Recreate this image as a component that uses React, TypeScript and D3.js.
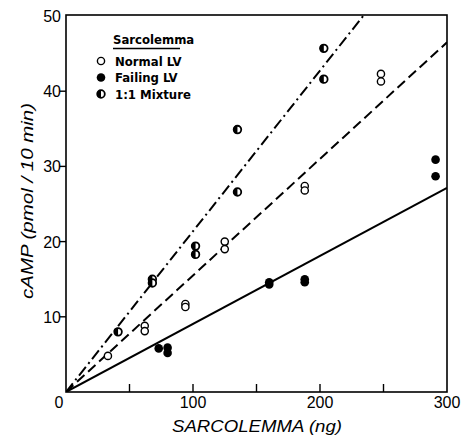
import React from "react";
import * as d3 from "d3";

const normalLV: [number, number][] = [
  [33, 4.8], [62, 8.8], [62, 8.1], [94, 11.7], [94, 11.3], [125, 20.0], [125, 19.0],
  [188, 27.4], [188, 26.8], [248, 42.3], [248, 41.3],
];
const failingLV: [number, number][] = [
  [73, 5.8], [80, 5.9], [80, 5.2], [160, 14.3], [160, 14.6], [188, 15.0], [188, 14.6],
  [291, 30.9], [291, 28.7],
];
const mixture: [number, number][] = [
  [41, 8.0], [68, 15.0], [68, 14.5], [102, 19.4], [102, 18.3], [135, 34.9], [135, 26.6],
  [203, 45.7], [203, 41.6],
];
// regression slopes (cAMP per ng) through origin
const lineSlopes = [
  { name: "failing", slope: 0.0905, dash: "" },
  { name: "normal", slope: 0.155, dash: "10,5" },
  { name: "mixture", slope: 0.2137, dash: "11,4,2,4" },
];
const xLabels = [0, 100, 200, 300];
const xMinor = [50, 100, 150, 200, 250];
const yLabels = [10, 20, 30, 40, 50];
const yTicks = [10, 20, 30, 40];
const legendItems = ["Normal LV", "Failing LV", "1:1 Mixture"];

export default function App() {
  const W = 465, H = 436;
  const x = d3.scaleLinear().domain([0, 300]).range([66, 447]);
  const y = d3.scaleLinear().domain([0, 50]).range([392, 16]);
  const left = x(0), right = x(300), bottom = y(0), top = 15;
  const line = d3.line<[number, number]>().x((d) => x(d[0])).y((d) => y(d[1]));
  const font = "'Liberation Sans', Arial, sans-serif";
  const lfont = "'Liberation Sans Narrow', 'DejaVu Sans Condensed', 'Liberation Sans', sans-serif";
  const r = 4;

  const half = (cx: number, cy: number) =>
    `M${cx},${cy - r} A${r},${r} 0 0 0 ${cx},${cy + r} Z`;

  const openC = (cx: number, cy: number, k: string) => (
    <circle key={k} cx={cx} cy={cy} r={r - 0.4} fill="white" stroke="#000" strokeWidth={1.4} />
  );
  const fillC = (cx: number, cy: number, k: string) => (
    <circle key={k} cx={cx} cy={cy} r={r + 0.3} fill="#000" />
  );
  const mixC = (cx: number, cy: number, k: string) => (
    <g key={k}>
      <circle cx={cx} cy={cy} r={r - 0.2} fill="white" stroke="#000" strokeWidth={1.8} />
      <path d={half(cx, cy)} fill="#000" />
    </g>
  );

  return (
    <div style={{ position: "fixed", left: 0, top: 0, width: W, height: H, overflow: "hidden" }}>
      <svg width={W} height={H} style={{ display: "block", background: "white" }}>
        <defs>
          <clipPath id="plot">
            <rect x={left} y={top} width={right - left} height={bottom - top} />
          </clipPath>
        </defs>
        {/* frame */}
        <rect x={left} y={top} width={right - left} height={bottom - top} fill="none" stroke="#000" strokeWidth={1.6} />
        {/* x minor ticks inward */}
        {xMinor.map((v) => (
          <line key={"xt" + v} x1={x(v)} x2={x(v)} y1={bottom} y2={bottom - 8} stroke="#000" strokeWidth={1.4} />
        ))}
        {/* y ticks outward */}
        {yTicks.map((v) => (
          <line key={"yt" + v} x1={left - 6} x2={left} y1={y(v)} y2={y(v)} stroke="#000" strokeWidth={1.4} />
        ))}
        {xLabels.map((v) => (
          <text key={"xl" + v} x={v === 0 ? x(v) - 7 : x(v)} y={408} textAnchor="middle" fontFamily={font} fontSize={16}>
            {v}
          </text>
        ))}
        {yLabels.map((v) => (
          <text key={"yl" + v} x={left - 5} y={y(v) + 6} textAnchor="end" fontFamily={font} fontSize={16}>
            {v}
          </text>
        ))}
        <text
          x={257}
          y={432}
          textAnchor="middle"
          fontFamily={font}
          fontSize={16}
          fontStyle="italic"
          textLength={170}
          lengthAdjust="spacingAndGlyphs"
        >
          SARCOLEMMA (ng)
        </text>
        <text
          transform="translate(33,201) rotate(-90)"
          textAnchor="middle"
          fontFamily={font}
          fontSize={16}
          fontStyle="italic"
          textLength={196}
          lengthAdjust="spacingAndGlyphs"
        >
          cAMP (pmol / 10 min)
        </text>
        {/* regression lines */}
        <g clipPath="url(#plot)">
          {lineSlopes.map((l) => (
            <path
              key={l.name}
              d={line([[0, 0], [300, 300 * l.slope]]) || ""}
              fill="none"
              stroke="#000"
              strokeWidth={2}
              strokeDasharray={l.dash || undefined}
            />
          ))}
        </g>
        {/* points */}
        {normalLV.map((d, i) => openC(x(d[0]), y(d[1]), "n" + i))}
        {failingLV.map((d, i) => fillC(x(d[0]), y(d[1]), "f" + i))}
        {mixture.map((d, i) => mixC(x(d[0]), y(d[1]), "m" + i))}
        {/* legend */}
        <text x={113} y={44} fontFamily={lfont} fontSize={13} fontWeight="bold">
          Sarcolemma
        </text>
        <line x1={113} x2={180} y1={48.5} y2={48.5} stroke="#000" strokeWidth={1.3} />
        {legendItems.map((t, i) => {
          const cy = 61 + i * 16.5;
          const cx = 101;
          return (
            <g key={t}>
              {i === 0 ? openC(cx, cy, "lo") : i === 1 ? fillC(cx, cy, "lf") : mixC(cx, cy, "lm")}
              <text x={115} y={cy + 4.5} fontFamily={lfont} fontSize={13} fontWeight="bold">
                {t}
              </text>
            </g>
          );
        })}
      </svg>
    </div>
  );
}
